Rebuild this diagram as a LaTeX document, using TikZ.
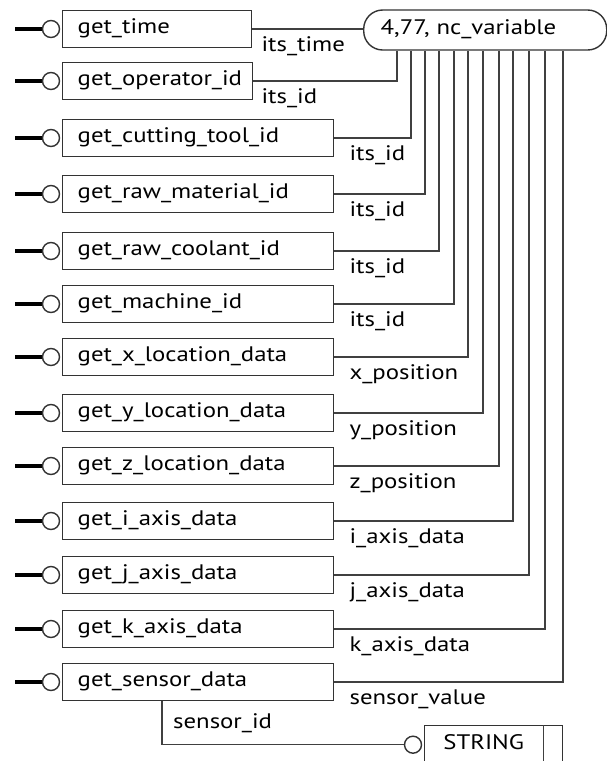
\documentclass[tikz,border=0pt]{standalone}
\usepackage{fontspec}
\setmainfont{PT Sans}[FakeStretch=1.18]
\begin{document}
\begin{tikzpicture}
  [x=1pt, y=-1pt,
   fonction/.style={
    draw=black!80,
    fill=white,
    rectangle,
    line width=1.4pt,
    anchor=west,
    text width=#1,
    align=left,
    inner xsep=15pt,
    minimum height=37pt,
    text height=14pt,
    text depth=5pt,
    font=\fontsize{21}{25}\selectfont},
   attribut/.style={
    draw=black!80,
    fill=white,
    rectangle,
    rounded corners=19pt,
    line width=1.4pt,
    anchor=west,
    text width=209pt,
    align=left,
    inner xsep=17pt,
    minimum height=40pt,
    text height=14pt,
    text depth=5pt,
    font=\fontsize{21}{25}\selectfont},
   classe/.style={
    draw=black!80,
    fill=white,
    rectangle,
    line width=1.4pt,
    anchor=north west,
    minimum width=138pt,
    minimum height=38pt,
    text height=14pt,
    text depth=5pt,
    font=\fontsize{21}{25}\selectfont},
   etiquette/.style={
    anchor=base west,
    inner sep=0pt,
    font=\fontsize{21}{25}\selectfont},
   lien/.style={draw=black!75, line width=1.3pt},
   tige/.style={draw=black, line width=4.5pt},
   rond/.style={draw=black!80, fill=white, line width=1.4pt}]

  \path [use as bounding box, fill=white] (0,0) rectangle (607,761);

  \node [attribut] at (363,30) (ncvar) {4,77, nc\_variable};

  \node [fonction=159pt] at (62,29) (time) {get\_time};
  \node [fonction=160pt] at (62,81) (operateur) {get\_operator\_id};
  \node [fonction=241pt] at (62,138) (outil) {get\_cutting\_tool\_id};
  \node [fonction=241pt] at (62,194) (matiere) {get\_raw\_material\_id};
  \node [fonction=241pt] at (62,251) (liquide) {get\_raw\_coolant\_id};
  \node [fonction=241pt] at (62,304) (machine) {get\_machine\_id};
  \node [fonction=241pt] at (62,357) (posx) {get\_x\_location\_data};
  \node [fonction=241pt] at (62,413) (posy) {get\_y\_location\_data};
  \node [fonction=241pt] at (62,466) (posz) {get\_z\_location\_data};
  \node [fonction=241pt] at (62,521) (axei) {get\_i\_axis\_data};
  \node [fonction=241pt] at (62,575) (axej) {get\_j\_axis\_data};
  \node [fonction=241pt] at (62,629) (axek) {get\_k\_axis\_data};
  \node [fonction=241pt] at (62,682) (capteur) {get\_sensor\_data};

  \node [classe] at (424,725) (chaine) {STRING\kern20pt};
  \draw [lien] ([xshift=-20]chaine.north east) -- ([xshift=-20]chaine.south east);

  \draw [lien] (time.east) -- (time.east -| ncvar.west);
  \draw [lien] (operateur.east) -| ([xshift=34]ncvar.south west);
  \draw [lien] (outil.east) -| ([xshift=48]ncvar.south west);
  \draw [lien] (matiere.east) -| ([xshift=62]ncvar.south west);
  \draw [lien] (liquide.east) -| ([xshift=76]ncvar.south west);
  \draw [lien] (machine.east) -| ([xshift=91]ncvar.south west);
  \draw [lien] (posx.east) -| ([xshift=105]ncvar.south west);
  \draw [lien] (posy.east) -| ([xshift=120]ncvar.south west);
  \draw [lien] (posz.east) -| ([xshift=136]ncvar.south west);
  \draw [lien] (axei.east) -| ([xshift=150]ncvar.south west);
  \draw [lien] (axej.east) -| ([xshift=166]ncvar.south west);
  \draw [lien] (axek.east) -| ([xshift=182]ncvar.south west);
  \draw [lien] (capteur.east) -| ([xshift=200]ncvar.south west);
  \draw [lien] ([xshift=100]capteur.south west) |- ([xshift=-19]chaine.west);

  \node [etiquette] at ([xshift=9,yshift=-22]time.east) (l1) {its\_time};
  \node [etiquette] at ([xshift=8,yshift=-22]operateur.east) (l2) {its\_id};
  \node [etiquette] at ([xshift=15,yshift=-22]outil.east) (l3) {its\_id};
  \node [etiquette] at ([xshift=15,yshift=-22]matiere.east) (l4) {its\_id};
  \node [etiquette] at ([xshift=15,yshift=-22]liquide.east) (l5) {its\_id};
  \node [etiquette] at ([xshift=15,yshift=-22]machine.east) (l6) {its\_id};
  \node [etiquette] at ([xshift=15,yshift=-22]posx.east) (l7) {x\_position};
  \node [etiquette] at ([xshift=15,yshift=-22]posy.east) (l8) {y\_position};
  \node [etiquette] at ([xshift=15,yshift=-22]posz.east) (l9) {z\_position};
  \node [etiquette] at ([xshift=15,yshift=-22]axei.east) (l10) {i\_axis\_data};
  \node [etiquette] at ([xshift=15,yshift=-22]axej.east) (l11) {j\_axis\_data};
  \node [etiquette] at ([xshift=15,yshift=-22]axek.east) (l12) {k\_axis\_data};
  \node [etiquette] at ([xshift=15,yshift=-22]capteur.east) (l13) {sensor\_value};
  \node [etiquette] at ([xshift=111,yshift=-27]capteur.south west) (l14) {sensor\_id};

  \draw [tige] ([xshift=-19]time.west) -- ([xshift=-47]time.west);
  \draw [rond] ([xshift=-11]time.west) circle (8.5);
  \draw [tige] ([xshift=-19]operateur.west) -- ([xshift=-47]operateur.west);
  \draw [rond] ([xshift=-11]operateur.west) circle (8.5);
  \draw [tige] ([xshift=-19]outil.west) -- ([xshift=-47]outil.west);
  \draw [rond] ([xshift=-11]outil.west) circle (8.5);
  \draw [tige] ([xshift=-19]matiere.west) -- ([xshift=-47]matiere.west);
  \draw [rond] ([xshift=-11]matiere.west) circle (8.5);
  \draw [tige] ([xshift=-19]liquide.west) -- ([xshift=-47]liquide.west);
  \draw [rond] ([xshift=-11]liquide.west) circle (8.5);
  \draw [tige] ([xshift=-19]machine.west) -- ([xshift=-47]machine.west);
  \draw [rond] ([xshift=-11]machine.west) circle (8.5);
  \draw [tige] ([xshift=-19]posx.west) -- ([xshift=-47]posx.west);
  \draw [rond] ([xshift=-11]posx.west) circle (8.5);
  \draw [tige] ([xshift=-19]posy.west) -- ([xshift=-47]posy.west);
  \draw [rond] ([xshift=-11]posy.west) circle (8.5);
  \draw [tige] ([xshift=-19]posz.west) -- ([xshift=-47]posz.west);
  \draw [rond] ([xshift=-11]posz.west) circle (8.5);
  \draw [tige] ([xshift=-19]axei.west) -- ([xshift=-47]axei.west);
  \draw [rond] ([xshift=-11]axei.west) circle (8.5);
  \draw [tige] ([xshift=-19]axej.west) -- ([xshift=-47]axej.west);
  \draw [rond] ([xshift=-11]axej.west) circle (8.5);
  \draw [tige] ([xshift=-19]axek.west) -- ([xshift=-47]axek.west);
  \draw [rond] ([xshift=-11]axek.west) circle (8.5);
  \draw [tige] ([xshift=-19]capteur.west) -- ([xshift=-47]capteur.west);
  \draw [rond] ([xshift=-11]capteur.west) circle (8.5);
  \draw [rond] ([xshift=-11]chaine.west) circle (8.5);
\end{tikzpicture}
\end{document}
